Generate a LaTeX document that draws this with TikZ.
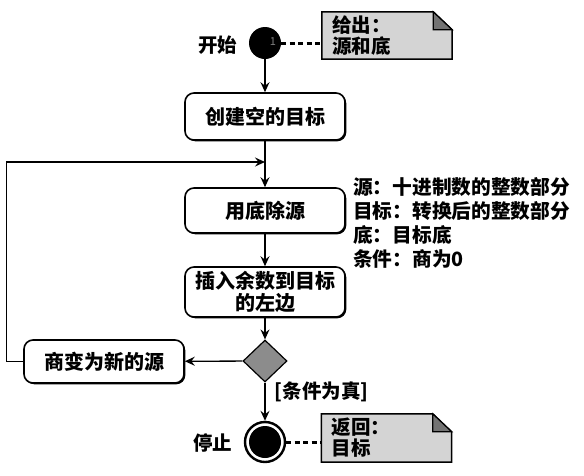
\documentclass[tikz,border=0pt]{standalone}
\usepackage{fontspec}
\setmainfont{Noto Sans CJK SC}
\usetikzlibrary{arrows.meta, shapes.geometric, shadows, backgrounds}

\begin{document}
\begin{tikzpicture}[x=1pt, y=-1pt,
    act/.style={draw, line width=1.6pt, rounded corners=9pt, fill=white,
        minimum width=160pt, inner sep=3pt, align=center,
        font=\fontsize{20}{22}\selectfont\bfseries,
        drop shadow={shadow xshift=1.3pt, shadow yshift=-1.3pt, fill=black, opacity=1}},
    flow/.style={-{Stealth[length=10pt, width=9pt, inset=3.5pt]}, line width=1.3pt},
    link/.style={dash pattern=on 5pt off 3.5pt, line width=3pt},
    memo/.style={align=left, inner xsep=10pt, inner ysep=0pt, text width=110pt,
        font=\fontsize{19.5}{21}\selectfont\bfseries},
    tag/.style={font=\fontsize{19.5}{21}\selectfont\bfseries}]
    \useasboundingbox (0,0) rectangle (584,475);
    % start and end
    \node[circle, fill=black, minimum size=32pt, inner sep=0pt] (start) at (265,43) {};
    \node[text=gray, font=\fontsize{11}{11}\selectfont] (one) at (273,42) {1};
    \node[tag, anchor=east] (startlbl) at (241,45) {开始};
    \node[circle, draw, line width=2.4pt, minimum size=40pt, inner sep=0pt] (stop) at (265,442) {};
    \fill (stop.center) circle (16pt);
    \node[tag, anchor=east] (stoplbl) at (236,443) {停止};
    % activities
    \node[act, minimum height=47pt] (create) at (265,116.5) {创建空的目标};
    \node[act, minimum height=45pt] (divide) at (265,210.5) {用底除源};
    \node[act, minimum height=50pt] (insert) at (265,292) {插入余数到目标\\的左边};
    \node[act, minimum height=43pt] (newsrc) at (104,361.5) {商变为新的源};
    \node[diamond, draw, line width=1.2pt, fill=black!45, minimum width=44pt,
        minimum height=42pt, inner sep=0pt] (test) at (265,361) {};
    % notes
    \node[memo, minimum width=130pt, minimum height=47pt] (given) at (387,35.5) {给出：\\源和底};
    \node[memo, minimum width=123pt, minimum height=48pt] (result) at (386.5,438) {返回：\\目标};
    \begin{scope}[on background layer]
        \foreach \n in {given, result} {
            \filldraw[fill=black!17, line width=1.5pt]
                (\n.north west) -- ([xshift=-19pt]\n.north east)
                -- ([yshift=-18pt]\n.north east) -- (\n.south east)
                -- (\n.south west) -- cycle;
            \filldraw[fill=black!55, line width=1.2pt]
                ([xshift=-19pt]\n.north east) -- ([xshift=-19pt, yshift=-18pt]\n.north east)
                -- ([yshift=-18pt]\n.north east) -- cycle;
        }
    \end{scope}
    \node[anchor=north west, align=left, inner sep=0pt,
        font=\fontsize{19.7}{24}\selectfont\bfseries] (roles) at (353,177)
        {源：十进制数的整数部分\\目标：转换后的整数部分\\底：目标底\\条件：商为0};
    % connectors
    \coordinate (merge) at (265,162);
    \draw[flow] (start) -- (create);
    \draw[flow] (create) -- (divide);
    \draw[flow] (divide) -- (insert);
    \draw[flow] (insert) -- (test);
    \draw[flow] (test) -- (newsrc);
    \draw[flow] (newsrc.west) -- ++(-17,0) |- (merge);
    \draw[flow] (test) -- node[tag, pos=0.25, anchor=west, xshift=6pt] {[条件为真]} (stop);
    \draw[link] (start.east) -- (given.west |- start.east);
    \draw[link] (stop.east) -- (result.west |- stop.east);
\end{tikzpicture}
\end{document}
